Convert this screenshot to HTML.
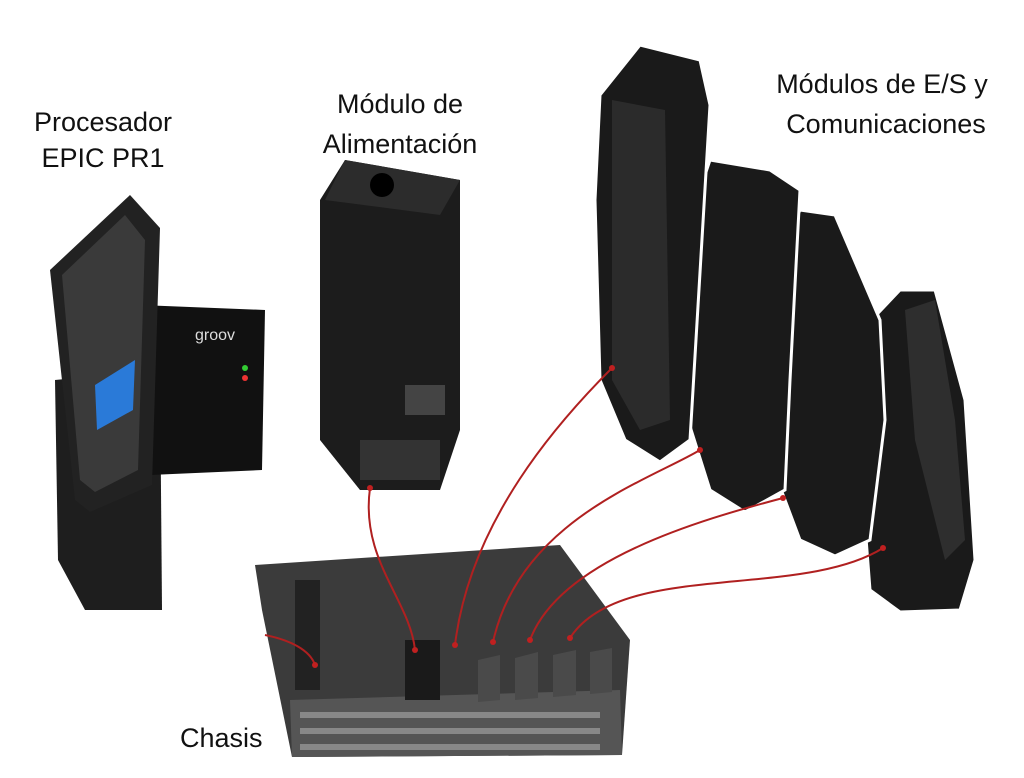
<!DOCTYPE html>
<html><head><meta charset="utf-8">
<style>
html,body{margin:0;padding:0;background:#fff;}
svg{display:block}
text{font-family:"Liberation Sans",sans-serif;font-size:27px;fill:#111;}
</style></head>
<body>
<svg width="1024" height="778" viewBox="0 0 1024 778" xmlns="http://www.w3.org/2000/svg">
<rect width="1024" height="778" fill="#fff"/>
<text x="103" y="131" text-anchor="middle">Procesador</text>
<text x="103" y="167" text-anchor="middle">EPIC PR1</text>
<text x="400" y="113" text-anchor="middle">Módulo de</text>
<text x="400" y="153" text-anchor="middle">Alimentación</text>
<text x="882" y="93" text-anchor="middle">Módulos de E/S y</text>
<text x="886" y="133" text-anchor="middle">Comunicaciones</text>
<text x="180" y="747">Chasis</text>

<!-- chassis -->
<polygon points="255,565 560,545 630,640 622,755 292,757 262,610" fill="#3b3b3b"/>
<polygon points="290,700 620,690 622,755 292,757" fill="#555"/>
<g fill="#888">
<rect x="300" y="712" width="300" height="6"/>
<rect x="300" y="728" width="300" height="6"/>
<rect x="300" y="744" width="300" height="6"/>
</g>
<g fill="#4a4a4a">
<polygon points="478,660 500,655 500,700 478,702"/>
<polygon points="515,658 538,652 538,698 515,700"/>
<polygon points="553,655 576,650 576,695 553,697"/>
<polygon points="590,652 612,648 612,692 590,694"/>
</g>
<rect x="295" y="580" width="25" height="110" fill="#222"/>
<rect x="405" y="640" width="35" height="60" fill="#1a1a1a"/>

<!-- processor -->
<polygon points="55,380 160,370 162,610 85,610 58,560" fill="#1e1e1e"/>
<polygon points="140,305 265,310 262,470 150,475" fill="#111"/>
<polygon points="50,270 130,195 160,228 152,485 90,512 75,500" fill="#222"/>
<polygon points="62,275 125,215 145,240 138,470 95,492 80,480" fill="#3a3a3a"/>
<polygon points="95,385 135,360 133,410 97,430" fill="#2a7ad8"/>
<text x="215" y="340" style="font-size:16px;fill:#ddd" text-anchor="middle">groov</text>
<circle cx="245" cy="368" r="3" fill="#3c3"/><circle cx="245" cy="378" r="3" fill="#e33"/>

<!-- power module -->
<polygon points="345,160 460,180 460,430 440,490 360,490 320,440 320,200" fill="#1c1c1c"/>
<polygon points="345,160 460,180 440,215 325,200" fill="#2c2c2c"/>
<circle cx="382" cy="185" r="12" fill="#000"/>
<rect x="360" y="440" width="80" height="40" fill="#333"/>
<rect x="405" y="385" width="40" height="30" fill="#444"/>

<!-- IO modules -->
<g stroke="#fff" stroke-width="3">
<polygon points="862,330 900,290 935,290 965,400 975,560 960,610 900,612 870,590 860,460" fill="#1a1a1a"/>
<polygon points="772,270 800,210 835,215 880,320 885,420 870,540 835,556 800,540 770,460" fill="#1a1a1a"/>
<polygon points="690,220 710,160 770,170 800,190 790,380 785,490 745,512 710,490 688,420" fill="#1a1a1a"/>
<polygon points="600,95 640,45 700,60 710,105 690,440 660,462 625,440 600,380 595,200" fill="#1a1a1a"/>
</g>
<polygon points="612,100 665,110 670,420 640,430 612,380" fill="#2b2b2b"/>
<polygon points="905,310 935,300 955,420 965,540 945,560 915,440" fill="#2e2e2e"/>

<!-- red connectors -->
<g fill="none" stroke="#b02020" stroke-width="2">
<path d="M370,488 C360,560 410,600 415,650"/>
<path d="M455,645 C470,520 560,420 612,368"/>
<path d="M493,642 C520,520 650,480 700,450"/>
<path d="M530,640 C560,560 700,520 783,498"/>
<path d="M570,638 C620,560 800,600 883,548"/>
<path d="M265,635 C290,640 310,650 315,665"/>
</g>
<g fill="#c02020">
<circle cx="370" cy="488" r="3"/><circle cx="612" cy="368" r="3"/><circle cx="700" cy="450" r="3"/>
<circle cx="783" cy="498" r="3"/><circle cx="883" cy="548" r="3"/><circle cx="455" cy="645" r="3"/>
<circle cx="493" cy="642" r="3"/><circle cx="530" cy="640" r="3"/><circle cx="570" cy="638" r="3"/>
<circle cx="315" cy="665" r="3"/><circle cx="415" cy="650" r="3"/>
</g>
</svg>
</body></html>
